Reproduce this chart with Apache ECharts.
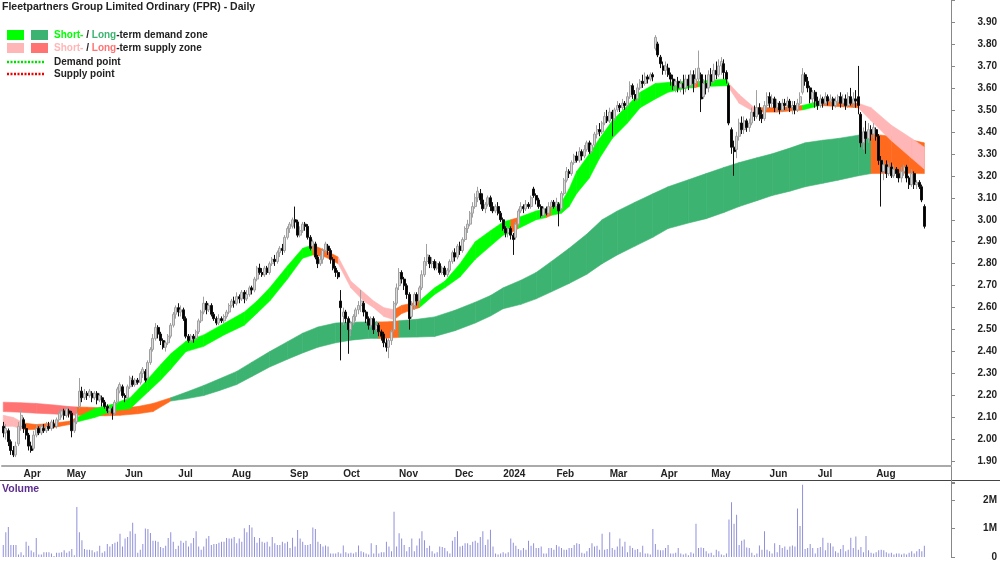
<!DOCTYPE html>
<html>
<head>
<meta charset="utf-8">
<title>FPR Daily</title>
<script src="https://cdn.jsdelivr.net/npm/echarts@6.0.0/dist/echarts.min.js"></script>
<style>
  html, body { margin: 0; padding: 0; background: #fff; }
  #chart { width: 1000px; height: 562px; }
</style>
</head>
<body>
<div id="chart"></div>
<script>
// trading days per month, first entry is the tail of March 2023
const monthNames = ['Mar', 'Apr', 'May', 'Jun', 'Jul', 'Aug', 'Sep', 'Oct', 'Nov', 'Dec', '2024', 'Feb', 'Mar', 'Apr', 'May', 'Jun', 'Jul', 'Aug']
const monthDays = [8, 17, 23, 21, 21, 23, 21, 22, 22, 19, 21, 21, 20, 20, 23, 19, 23, 20]
const padDays = 10

// [open, close, low, high]
const prices = [
  [2.06, 2.03, 2.01, 2.08], [2.03, 2.05, 2.00, 2.07], [2.04, 1.99, 1.97, 2.05], [1.99, 1.95, 1.93, 2.00], [1.95, 1.93, 1.92, 1.97], [1.93, 1.97, 1.92, 1.99],
  [1.98, 2.06, 1.97, 2.08], [2.06, 2.11, 2.04, 2.14], [2.09, 2.05, 2.03, 2.10], [2.05, 2.02, 2.00, 2.07], [2.02, 1.97, 1.95, 2.03], [1.97, 1.95, 1.94, 1.99],
  [1.96, 2.02, 1.95, 2.04], [2.02, 2.05, 2.01, 2.07], [2.05, 2.03, 2.02, 2.06], [2.03, 2.06, 2.02, 2.07], [2.05, 2.04, 2.03, 2.07], [2.04, 2.06, 2.03, 2.08],
  [2.06, 2.05, 2.04, 2.08], [2.05, 2.08, 2.04, 2.09], [2.07, 2.06, 2.05, 2.09], [2.06, 2.09, 2.05, 2.10], [2.09, 2.12, 2.08, 2.13], [2.11, 2.13, 2.10, 2.14],
  [2.13, 2.11, 2.09, 2.14], [2.11, 2.14, 2.10, 2.15], [2.13, 2.12, 2.10, 2.14], [2.12, 2.04, 2.01, 2.13], [2.04, 2.08, 2.03, 2.09], [2.08, 2.12, 2.07, 2.14],
  [2.15, 2.22, 2.14, 2.28], [2.22, 2.19, 2.17, 2.24], [2.19, 2.21, 2.18, 2.23], [2.21, 2.20, 2.18, 2.22], [2.20, 2.22, 2.19, 2.23], [2.21, 2.19, 2.17, 2.22],
  [2.19, 2.21, 2.18, 2.22], [2.21, 2.18, 2.16, 2.22], [2.18, 2.20, 2.17, 2.21], [2.19, 2.17, 2.15, 2.20], [2.17, 2.15, 2.14, 2.18], [2.15, 2.13, 2.12, 2.16],
  [2.13, 2.14, 2.11, 2.15], [2.14, 2.12, 2.09, 2.15], [2.12, 2.17, 2.11, 2.18], [2.17, 2.23, 2.16, 2.24], [2.22, 2.25, 2.21, 2.26], [2.24, 2.20, 2.19, 2.25],
  [2.20, 2.19, 2.17, 2.21], [2.19, 2.24, 2.18, 2.25], [2.24, 2.28, 2.23, 2.29], [2.27, 2.25, 2.24, 2.29], [2.25, 2.27, 2.24, 2.28], [2.27, 2.26, 2.25, 2.28],
  [2.26, 2.30, 2.25, 2.31], [2.30, 2.32, 2.28, 2.33], [2.31, 2.27, 2.26, 2.32], [2.28, 2.35, 2.27, 2.36], [2.35, 2.41, 2.34, 2.42], [2.41, 2.46, 2.40, 2.48],
  [2.46, 2.51, 2.45, 2.53], [2.51, 2.48, 2.46, 2.52], [2.48, 2.45, 2.43, 2.49], [2.45, 2.42, 2.41, 2.46], [2.42, 2.44, 2.40, 2.45], [2.44, 2.47, 2.43, 2.48],
  [2.47, 2.52, 2.46, 2.53], [2.52, 2.57, 2.51, 2.58], [2.57, 2.60, 2.55, 2.61], [2.60, 2.58, 2.56, 2.62], [2.58, 2.59, 2.56, 2.61], [2.59, 2.55, 2.54, 2.60],
  [2.55, 2.47, 2.46, 2.56], [2.47, 2.45, 2.44, 2.48], [2.45, 2.47, 2.44, 2.48], [2.47, 2.46, 2.44, 2.48], [2.46, 2.49, 2.45, 2.50], [2.49, 2.54, 2.48, 2.55],
  [2.54, 2.58, 2.53, 2.59], [2.58, 2.62, 2.57, 2.65], [2.62, 2.59, 2.57, 2.63], [2.59, 2.61, 2.58, 2.62], [2.61, 2.57, 2.56, 2.62], [2.57, 2.55, 2.54, 2.58],
  [2.55, 2.53, 2.52, 2.56], [2.53, 2.55, 2.52, 2.57], [2.55, 2.54, 2.53, 2.56], [2.54, 2.56, 2.53, 2.57], [2.56, 2.58, 2.55, 2.59], [2.58, 2.61, 2.57, 2.62],
  [2.61, 2.63, 2.60, 2.64], [2.63, 2.62, 2.60, 2.65], [2.62, 2.65, 2.61, 2.67], [2.65, 2.64, 2.62, 2.66], [2.64, 2.67, 2.63, 2.68], [2.67, 2.64, 2.62, 2.68],
  [2.64, 2.66, 2.63, 2.68], [2.66, 2.69, 2.65, 2.70], [2.69, 2.68, 2.66, 2.70], [2.68, 2.73, 2.67, 2.74], [2.73, 2.78, 2.72, 2.79], [2.78, 2.76, 2.75, 2.80],
  [2.76, 2.75, 2.74, 2.78], [2.75, 2.78, 2.74, 2.79], [2.78, 2.76, 2.75, 2.79], [2.76, 2.80, 2.75, 2.81], [2.80, 2.82, 2.79, 2.83], [2.82, 2.81, 2.79, 2.84],
  [2.81, 2.85, 2.80, 2.86], [2.85, 2.87, 2.83, 2.88], [2.87, 2.86, 2.84, 2.89], [2.86, 2.92, 2.85, 2.93], [2.92, 2.96, 2.91, 2.97], [2.96, 2.98, 2.94, 2.99],
  [2.97, 3.00, 2.96, 3.01], [3.00, 2.99, 2.96, 3.06], [2.99, 2.93, 2.92, 3.00], [2.93, 2.95, 2.92, 2.97], [2.95, 2.98, 2.94, 2.99], [2.98, 2.97, 2.95, 2.99],
  [2.97, 2.92, 2.91, 2.98], [2.92, 2.87, 2.86, 2.93], [2.88, 2.90, 2.86, 2.91], [2.89, 2.83, 2.82, 2.90], [2.83, 2.80, 2.78, 2.84], [2.80, 2.82, 2.79, 2.84],
  [2.82, 2.86, 2.80, 2.87], [2.86, 2.89, 2.85, 2.90], [2.88, 2.86, 2.84, 2.89], [2.86, 2.82, 2.80, 2.87], [2.82, 2.78, 2.77, 2.83], [2.78, 2.76, 2.74, 2.79],
  [2.76, 2.74, 2.73, 2.77], [2.63, 2.60, 2.36, 2.68], [2.56, 2.58, 2.52, 2.60], [2.58, 2.55, 2.53, 2.59], [2.55, 2.50, 2.39, 2.56], [2.50, 2.53, 2.47, 2.54],
  [2.53, 2.56, 2.52, 2.57], [2.56, 2.59, 2.54, 2.60], [2.59, 2.61, 2.57, 2.63], [2.61, 2.63, 2.58, 2.68], [2.62, 2.58, 2.56, 2.63], [2.58, 2.55, 2.53, 2.59],
  [2.55, 2.52, 2.50, 2.56], [2.52, 2.55, 2.51, 2.56], [2.55, 2.50, 2.48, 2.56], [2.50, 2.52, 2.49, 2.54], [2.52, 2.49, 2.47, 2.53], [2.49, 2.47, 2.45, 2.50],
  [2.48, 2.44, 2.42, 2.49], [2.44, 2.42, 2.40, 2.46], [2.42, 2.45, 2.37, 2.46], [2.45, 2.49, 2.43, 2.50], [2.50, 2.62, 2.49, 2.63], [2.62, 2.69, 2.61, 2.71],
  [2.70, 2.76, 2.68, 2.78], [2.76, 2.73, 2.71, 2.77], [2.73, 2.70, 2.68, 2.74], [2.70, 2.66, 2.64, 2.71], [2.66, 2.55, 2.50, 2.67], [2.56, 2.61, 2.55, 2.63],
  [2.61, 2.66, 2.59, 2.67], [2.66, 2.63, 2.61, 2.67], [2.63, 2.69, 2.62, 2.70], [2.69, 2.75, 2.68, 2.77], [2.75, 2.81, 2.74, 2.83], [2.81, 2.84, 2.79, 2.89],
  [2.83, 2.80, 2.78, 2.84], [2.80, 2.81, 2.78, 2.83], [2.81, 2.78, 2.77, 2.82], [2.78, 2.80, 2.77, 2.81], [2.80, 2.76, 2.75, 2.81], [2.76, 2.78, 2.75, 2.79],
  [2.78, 2.75, 2.74, 2.79], [2.75, 2.77, 2.74, 2.78], [2.77, 2.81, 2.76, 2.82], [2.81, 2.85, 2.80, 2.86], [2.85, 2.83, 2.81, 2.87], [2.83, 2.88, 2.82, 2.89],
  [2.88, 2.86, 2.84, 2.90], [2.86, 2.91, 2.85, 2.92], [2.91, 2.96, 2.90, 2.97], [2.96, 2.98, 2.94, 3.00], [2.98, 3.03, 2.97, 3.04], [3.03, 3.06, 3.01, 3.08],
  [3.06, 3.10, 3.05, 3.12], [3.10, 3.13, 3.08, 3.15], [3.12, 3.09, 3.07, 3.14], [3.09, 3.05, 3.04, 3.12], [3.05, 3.07, 3.03, 3.08], [3.07, 3.10, 3.06, 3.11],
  [3.10, 3.06, 3.04, 3.11], [3.06, 3.04, 3.03, 3.08], [3.04, 3.06, 3.03, 3.07], [3.06, 3.03, 3.02, 3.08], [3.03, 3.00, 2.99, 3.04], [3.00, 2.96, 2.95, 3.01],
  [2.96, 2.94, 2.92, 2.97], [2.94, 2.96, 2.92, 2.97], [2.96, 2.93, 2.91, 2.97], [2.93, 2.91, 2.84, 2.94], [2.92, 2.98, 2.91, 2.99], [2.98, 3.04, 2.97, 3.05],
  [3.04, 3.06, 3.03, 3.08], [3.06, 3.05, 3.03, 3.07], [3.05, 3.07, 3.04, 3.09], [3.07, 3.06, 3.05, 3.08], [3.06, 3.10, 3.05, 3.11], [3.14, 3.11, 3.10, 3.15],
  [3.11, 3.09, 3.07, 3.12], [3.09, 3.06, 3.05, 3.10], [3.06, 3.02, 3.01, 3.07], [3.02, 3.05, 3.01, 3.06], [3.05, 3.03, 3.02, 3.06], [3.03, 3.06, 3.02, 3.08],
  [3.06, 3.08, 3.05, 3.09], [3.08, 3.06, 3.05, 3.09], [3.06, 3.08, 3.05, 3.10], [3.07, 3.04, 2.97, 3.08], [3.05, 3.12, 3.04, 3.13], [3.12, 3.18, 3.11, 3.19],
  [3.18, 3.22, 3.17, 3.24], [3.22, 3.21, 3.19, 3.23], [3.21, 3.26, 3.20, 3.27], [3.26, 3.29, 3.25, 3.30], [3.29, 3.27, 3.26, 3.31], [3.27, 3.31, 3.26, 3.33],
  [3.31, 3.29, 3.27, 3.32], [3.29, 3.32, 3.28, 3.34], [3.32, 3.35, 3.31, 3.36], [3.35, 3.31, 3.30, 3.36], [3.31, 3.34, 3.30, 3.35], [3.34, 3.39, 3.33, 3.40],
  [3.39, 3.41, 3.37, 3.43], [3.41, 3.40, 3.38, 3.44], [3.40, 3.44, 3.39, 3.45], [3.44, 3.47, 3.43, 3.49], [3.47, 3.45, 3.44, 3.50], [3.45, 3.49, 3.44, 3.51],
  [3.49, 3.46, 3.38, 3.50], [3.46, 3.50, 3.45, 3.51], [3.50, 3.52, 3.49, 3.54], [3.52, 3.51, 3.49, 3.53], [3.51, 3.53, 3.50, 3.55], [3.53, 3.52, 3.50, 3.54],
  [3.52, 3.56, 3.51, 3.58], [3.56, 3.61, 3.55, 3.63], [3.61, 3.57, 3.55, 3.62], [3.57, 3.55, 3.54, 3.59], [3.55, 3.60, 3.54, 3.62], [3.60, 3.63, 3.59, 3.64],
  [3.63, 3.62, 3.60, 3.66], [3.62, 3.65, 3.61, 3.67], [3.65, 3.64, 3.62, 3.66], [3.64, 3.66, 3.63, 3.67], [3.66, 3.65, 3.63, 3.67], [3.78, 3.83, 3.77, 3.84],
  [3.80, 3.75, 3.74, 3.81], [3.74, 3.71, 3.69, 3.75], [3.70, 3.68, 3.66, 3.72], [3.68, 3.70, 3.66, 3.72], [3.69, 3.66, 3.65, 3.71], [3.66, 3.64, 3.61, 3.67],
  [3.64, 3.61, 3.59, 3.66], [3.61, 3.63, 3.58, 3.64], [3.63, 3.60, 3.58, 3.65], [3.60, 3.62, 3.58, 3.64], [3.62, 3.60, 3.57, 3.66], [3.60, 3.64, 3.58, 3.66],
  [3.64, 3.61, 3.59, 3.66], [3.61, 3.66, 3.60, 3.68], [3.66, 3.62, 3.58, 3.68], [3.62, 3.64, 3.60, 3.69], [3.64, 3.69, 3.62, 3.77], [3.66, 3.55, 3.49, 3.67],
  [3.56, 3.62, 3.55, 3.64], [3.62, 3.60, 3.57, 3.66], [3.60, 3.66, 3.58, 3.68], [3.66, 3.63, 3.61, 3.69], [3.63, 3.68, 3.62, 3.71], [3.68, 3.66, 3.64, 3.72],
  [3.66, 3.70, 3.65, 3.73], [3.70, 3.72, 3.66, 3.74], [3.71, 3.67, 3.64, 3.73], [3.67, 3.64, 3.62, 3.68], [3.61, 3.44, 3.43, 3.62], [3.41, 3.33, 3.30, 3.42],
  [3.33, 3.31, 3.20, 3.36], [3.32, 3.38, 3.28, 3.40], [3.38, 3.44, 3.36, 3.46], [3.44, 3.41, 3.39, 3.47], [3.41, 3.45, 3.39, 3.47], [3.45, 3.42, 3.40, 3.46],
  [3.42, 3.44, 3.40, 3.46], [3.44, 3.49, 3.43, 3.51], [3.49, 3.47, 3.45, 3.52], [3.47, 3.51, 3.46, 3.59], [3.51, 3.48, 3.45, 3.53], [3.48, 3.46, 3.44, 3.50],
  [3.46, 3.52, 3.45, 3.54], [3.52, 3.56, 3.50, 3.58], [3.56, 3.53, 3.51, 3.58], [3.53, 3.55, 3.51, 3.57], [3.55, 3.51, 3.49, 3.56], [3.51, 3.53, 3.49, 3.55],
  [3.53, 3.50, 3.48, 3.54], [3.50, 3.53, 3.49, 3.55], [3.53, 3.52, 3.50, 3.55], [3.52, 3.54, 3.50, 3.56], [3.54, 3.51, 3.49, 3.55], [3.51, 3.52, 3.48, 3.54],
  [3.52, 3.50, 3.48, 3.54], [3.50, 3.53, 3.49, 3.55], [3.53, 3.56, 3.52, 3.58], [3.58, 3.66, 3.57, 3.69], [3.66, 3.63, 3.61, 3.67], [3.63, 3.60, 3.58, 3.65],
  [3.60, 3.55, 3.53, 3.61], [3.55, 3.58, 3.52, 3.59], [3.58, 3.54, 3.51, 3.59], [3.54, 3.52, 3.50, 3.56], [3.52, 3.55, 3.51, 3.57], [3.55, 3.53, 3.51, 3.56],
  [3.53, 3.56, 3.52, 3.58], [3.56, 3.54, 3.52, 3.57], [3.54, 3.55, 3.52, 3.57], [3.55, 3.52, 3.50, 3.56], [3.52, 3.54, 3.51, 3.56], [3.54, 3.56, 3.53, 3.57],
  [3.56, 3.53, 3.51, 3.58], [3.53, 3.55, 3.52, 3.57], [3.55, 3.52, 3.50, 3.57], [3.52, 3.56, 3.51, 3.58], [3.56, 3.53, 3.52, 3.60], [3.53, 3.55, 3.51, 3.58],
  [3.55, 3.54, 3.51, 3.59], [3.56, 3.52, 3.48, 3.70], [3.48, 3.35, 3.33, 3.49], [3.35, 3.40, 3.32, 3.42], [3.40, 3.37, 3.30, 3.45], [3.37, 3.41, 3.35, 3.44],
  [3.41, 3.39, 3.36, 3.43], [3.39, 3.42, 3.37, 3.44], [3.41, 3.38, 3.36, 3.42], [3.38, 3.27, 3.25, 3.39], [3.27, 3.22, 3.06, 3.29], [3.22, 3.25, 3.18, 3.27],
  [3.25, 3.21, 3.19, 3.27], [3.21, 3.24, 3.20, 3.26], [3.24, 3.20, 3.19, 3.26], [3.20, 3.23, 3.19, 3.25], [3.23, 3.21, 3.19, 3.24], [3.21, 3.19, 3.17, 3.23],
  [3.19, 3.22, 3.17, 3.24], [3.22, 3.24, 3.20, 3.25], [3.24, 3.19, 3.17, 3.25], [3.19, 3.16, 3.14, 3.20], [3.16, 3.21, 3.15, 3.23], [3.21, 3.16, 3.14, 3.22],
  [3.16, 3.17, 3.14, 3.18], [3.17, 3.15, 3.14, 3.18], [3.15, 3.09, 3.08, 3.16], [3.06, 2.97, 2.96, 3.07]
]

// daily volume, thousands of shares
const volumes = [
  425, 869, 1057, 425, 425, 425, 92, 169, 58, 536, 391, 225, 169, 669, 92, 92, 169, 169, 169, 125,
  36, 147, 147, 169, 236, 147, 203, 280, 58, 1757, 869, 591, 280, 258, 258, 236, 169, 203, 391, 147,
  203, 458, 369, 458, 502, 536, 813, 369, 647, 702, 902, 1202, 813, 147, 258, 458, 1002, 980, 846, 569,
  569, 536, 347, 314, 391, 669, 869, 536, 280, 391, 569, 502, 569, 369, 480, 669, 902, 369, 258, 369,
  647, 735, 425, 458, 458, 502, 536, 536, 669, 647, 647, 702, 480, 647, 536, 1013, 869, 1124, 1035, 702,
  502, 669, 536, 502, 536, 369, 702, 480, 425, 425, 536, 480, 536, 314, 680, 369, 946, 647, 536, 425,
  425, 458, 1035, 980, 536, 458, 369, 402, 369, 125, 125, 125, 169, 125, 402, 169, 125, 147, 125, 169,
  402, 203, 169, 125, 92, 480, 125, 425, 125, 169, 169, 536, 369, 203, 1590, 369, 835, 647, 425, 203,
  347, 647, 203, 402, 647, 902, 591, 314, 391, 203, 125, 169, 369, 347, 314, 203, 125, 569, 702, 902,
  369, 391, 480, 480, 425, 536, 569, 502, 702, 902, 425, 613, 957, 369, 125, 92,
  125, 169, 125, 169, 647, 502, 391, 280, 236, 314, 258, 569, 391, 480, 314, 314, 369, 125, 125, 314,
  314, 258, 425, 369, 314, 258, 258, 314, 314, 425, 480, 458, 147, 125, 203, 314, 480, 369, 391, 258,
  813, 258, 280, 869, 314, 258, 369, 647, 369, 536, 169, 391, 314, 258, 280, 169, 391, 125, 125, 92,
  980, 458, 258, 236, 236, 314, 425, 125, 125, 147, 314, 125, 92, 125, 58, 169, 125, 1168, 314, 336,
  314, 203, 125, 147, 58, 258, 203, 92, 58, 125, 1313, 1923, 1168, 1479, 425, 569, 613, 336, 314, 147,
  58, 125, 402, 258, 902, 258, 203, 125, 480, 169, 425, 314, 369, 258, 369, 402, 369, 1701, 1091, 2534,
  280, 314, 458, 314, 125, 314, 347, 680, 236, 502, 480, 369, 203, 147, 280, 425, 203, 258, 680, 314,
  724, 258, 347, 169, 735, 236, 147, 125, 169, 236, 258, 236, 169, 125, 147, 92, 125, 125, 92, 125,
  92, 147, 203, 125, 203, 280, 203, 391
]

// short-term zone (bar index, upper, lower, state)
const shortIdx = [0, 4, 8, 13, 20, 26, 29, 36, 43, 50, 57, 62, 66, 72, 79, 87, 95, 100, 105, 112, 118, 122, 127, 132, 137, 142, 146, 150, 154, 157, 161, 164, 170, 174, 180, 186, 192, 197, 200, 203, 210, 214, 216, 220, 223, 226, 231, 235, 240, 246, 251, 257, 262, 270, 272, 274, 285, 286, 290, 296, 305, 315, 322, 337, 342, 350, 358, 363]
const shortHi = [2.11, 2.10, 2.075, 2.068, 2.075, 2.083, 2.10, 2.14, 2.16, 2.19, 2.275, 2.34, 2.39, 2.447, 2.476, 2.528, 2.58, 2.63, 2.69, 2.79, 2.87, 2.885, 2.86, 2.83, 2.72, 2.67, 2.63, 2.60, 2.59, 2.61, 2.62, 2.63, 2.69, 2.72, 2.80, 2.90, 2.95, 2.99, 3.00, 3.01, 3.04, 3.05, 3.06, 3.08, 3.14, 3.22, 3.30, 3.37, 3.45, 3.52, 3.58, 3.62, 3.625, 3.63, 3.63, 3.63, 3.64, 3.62, 3.57, 3.51, 3.51, 3.52, 3.54, 3.53, 3.51, 3.43, 3.37, 3.33]
const shortLo = [2.06, 2.06, 2.045, 2.046, 2.055, 2.068, 2.08, 2.10, 2.13, 2.14, 2.216, 2.27, 2.32, 2.40, 2.424, 2.476, 2.52, 2.575, 2.63, 2.73, 2.825, 2.84, 2.83, 2.80, 2.69, 2.63, 2.60, 2.56, 2.545, 2.573, 2.59, 2.60, 2.66, 2.69, 2.74, 2.82, 2.88, 2.93, 2.94, 2.96, 3.00, 3.01, 3.02, 3.03, 3.06, 3.12, 3.19, 3.28, 3.37, 3.44, 3.51, 3.55, 3.58, 3.60, 3.60, 3.605, 3.61, 3.60, 3.53, 3.49, 3.49, 3.50, 3.52, 3.51, 3.45, 3.36, 3.28, 3.23]
const shortState = ['ss', 'ss', 'o', 'o', 'o', 'o', 'sd', 'sd', 'sd', 'sd', 'sd', 'sd', 'sd', 'sd', 'sd', 'sd', 'sd', 'sd', 'sd', 'sd', 'sd', 'o', 'o', 'ss', 'ss', 'ss', 'ss', 'ss', 'o', 'o', 'o', 'sd', 'sd', 'sd', 'sd', 'sd', 'sd', 'sd', 'o', 'sd', 'sd', 'o', 'sd', 'sd', 'sd', 'sd', 'sd', 'sd', 'sd', 'sd', 'sd', 'sd', 'sd', 'sd', 'o', 'sd', 'sd', 'ss', 'ss', 'o', 'o', 'sd', 'o', 'ss', 'ss', 'ss', 'ss', 'ss']

// long-term zone (bar index, upper, lower, state)
const longIdx = [0, 7, 13, 20, 26, 29, 33, 40, 46, 53, 59, 66, 72, 79, 85, 92, 98, 105, 112, 118, 124, 131, 137, 144, 148, 152, 156, 163, 170, 178, 186, 192, 197, 204, 210, 216, 223, 230, 236, 242, 249, 256, 262, 270, 277, 284, 290, 297, 303, 310, 316, 323, 329, 337, 342, 350, 357, 363]
const longHi = [2.170, 2.167, 2.164, 2.157, 2.150, 2.148, 2.147, 2.143, 2.142, 2.150, 2.164, 2.190, 2.215, 2.246, 2.275, 2.310, 2.352, 2.400, 2.445, 2.484, 2.512, 2.530, 2.534, 2.535, 2.535, 2.536, 2.540, 2.547, 2.558, 2.588, 2.625, 2.655, 2.690, 2.725, 2.760, 2.810, 2.870, 2.935, 3.000, 3.040, 3.080, 3.118, 3.150, 3.182, 3.210, 3.238, 3.260, 3.282, 3.300, 3.326, 3.350, 3.362, 3.370, 3.385, 3.390, 3.380, 3.365, 3.350]
const longLo = [2.127, 2.124, 2.120, 2.116, 2.112, 2.110, 2.108, 2.108, 2.110, 2.117, 2.127, 2.175, 2.185, 2.200, 2.222, 2.250, 2.287, 2.330, 2.365, 2.394, 2.420, 2.440, 2.452, 2.460, 2.460, 2.462, 2.465, 2.466, 2.469, 2.495, 2.530, 2.562, 2.595, 2.615, 2.640, 2.672, 2.710, 2.752, 2.800, 2.840, 2.880, 2.920, 2.960, 2.985, 3.005, 3.033, 3.060, 3.087, 3.110, 3.130, 3.150, 3.166, 3.180, 3.200, 3.210, 3.212, 3.212, 3.210]
const longState = ['ls', 'ls', 'ls', 'ls', 'ls', 'o', 'o', 'o', 'o', 'o', 'o', 'ld', 'ld', 'ld', 'ld', 'ld', 'ld', 'ld', 'ld', 'ld', 'ld', 'ld', 'ld', 'ld', 'o', 'o', 'ld', 'ld', 'ld', 'ld', 'ld', 'ld', 'ld', 'ld', 'ld', 'ld', 'ld', 'ld', 'ld', 'ld', 'ld', 'ld', 'ld', 'ld', 'ld', 'ld', 'ld', 'ld', 'ld', 'ld', 'ld', 'ld', 'ld', 'ld', 'o', 'o', 'o', 'o']

const zoneColors = {
  sd: '#00ff00',
  ss: '#ffb6b6',
  ld: '#3cb371',
  ls: '#ff7373',
  o: '#ff6a1f',
}

const categories = []
const monthStart = {}
monthNames.forEach((m, k) => {
  for (let d = 0; d < monthDays[k]; d++) {
    if (d === 0 && k > 0) monthStart[categories.length] = m
    categories.push(m + '-' + k + '-' + d)
  }
})
for (let d = 0; d < padDays; d++) categories.push('pad-' + d)

function zoneData(idx, hi, lo, state) {
  const out = []
  for (let k = 0; k < idx.length - 1; k++) {
    out.push({
      value: [idx[k], idx[k + 1], hi[k], lo[k], hi[k + 1], lo[k + 1]],
      itemStyle: { color: zoneColors[state[k]] },
    })
  }
  return out
}

function renderZone(params, api) {
  const a = api.coord([api.value(0), api.value(2)])
  const b = api.coord([api.value(1), api.value(4)])
  const c = api.coord([api.value(1), api.value(5)])
  const d = api.coord([api.value(0), api.value(3)])
  const color = api.visual('color')
  return {
    type: 'polygon',
    shape: { points: [a, b, c, d] },
    style: { fill: color, stroke: color, lineWidth: 0.6 },
  }
}

const font = 'Liberation Sans, Arial, sans-serif'
const labelStyle = { color: '#222', fontSize: 10, fontWeight: 'bold', fontFamily: font }

const chart = echarts.init(document.getElementById('chart'))

chart.setOption({
  animation: false,
  backgroundColor: '#fff',
  grid: [
    { left: 2, right: 48, top: -10.45, height: 493.9 },
    { left: 2, right: 48, top: 482, height: 79 },
  ],
  xAxis: [
    {
      type: 'category',
      gridIndex: 0,
      data: categories,
      boundaryGap: true,
      offset: -17.45,
      axisLine: { lineStyle: { color: '#aaa', width: 2 } },
      axisTick: {
        alignWithLabel: true,
        length: 3,
        interval: (i) => i in monthStart,
        lineStyle: { color: '#777' },
      },
      axisLabel: {
        ...labelStyle,
        align: 'left',
        margin: 3,
        interval: (i) => i in monthStart,
        formatter: (v, i) => monthStart[i] || '',
      },
      splitLine: { show: false },
    },
    {
      type: 'category',
      gridIndex: 1,
      data: categories,
      boundaryGap: true,
      show: false,
    },
  ],
  yAxis: [
    {
      type: 'value',
      gridIndex: 0,
      position: 'right',
      min: 1.8,
      max: 4.0,
      interval: 0.1,
      axisLine: { show: true, lineStyle: { color: '#888' } },
      axisTick: { show: true, length: 4, lineStyle: { color: '#888' } },
      axisLabel: {
        ...labelStyle,
        align: 'right',
        margin: 46,
        formatter: (v) => (v < 1.85 || v > 3.95 ? '' : v.toFixed(2)),
      },
      splitLine: { show: false },
    },
    {
      type: 'value',
      gridIndex: 1,
      position: 'right',
      min: 0,
      max: 2633,
      interval: 1000,
      axisLine: { show: true, lineStyle: { color: '#888' } },
      axisTick: { show: true, length: 4, lineStyle: { color: '#888' } },
      axisLabel: {
        ...labelStyle,
        align: 'right',
        margin: 46,
        formatter: (v) => (v === 0 ? '0' : v % 1000 === 0 ? v / 1000 + 'M' : ''),
      },
      splitLine: { show: false },
    },
  ],
  series: [
    {
      name: 'Long-term zone',
      type: 'custom',
      xAxisIndex: 0,
      yAxisIndex: 0,
      renderItem: renderZone,
      encode: { x: [0, 1], y: [2, 3, 4, 5] },
      data: zoneData(longIdx, longHi, longLo, longState),
      z: 1,
    },
    {
      name: 'Short-term zone',
      type: 'custom',
      xAxisIndex: 0,
      yAxisIndex: 0,
      renderItem: renderZone,
      encode: { x: [0, 1], y: [2, 3, 4, 5] },
      data: zoneData(shortIdx, shortHi, shortLo, shortState),
      z: 2,
    },
    {
      name: 'FPR',
      type: 'candlestick',
      xAxisIndex: 0,
      yAxisIndex: 0,
      data: prices,
      barWidth: 2.5,
      itemStyle: {
        color: '#d8d8d8',
        color0: '#000',
        borderColor: '#a0a0a0',
        borderColor0: '#111',
        borderWidth: 1,
      },
      z: 3,
    },
    {
      name: 'Volume',
      type: 'bar',
      xAxisIndex: 1,
      yAxisIndex: 1,
      data: volumes,
      barWidth: 1,
      itemStyle: { color: '#9090da' },
    },
  ],
  graphic: [
    {
      type: 'text',
      left: 2,
      top: 2,
      style: { text: 'Fleetpartners Group Limited Ordinary (FPR) - Daily', fill: '#222', font: 'bold 10.5px ' + font },
    },
    { type: 'rect', shape: { x: 7, y: 30, width: 17, height: 10 }, style: { fill: zoneColors.sd } },
    { type: 'rect', shape: { x: 31, y: 30, width: 17, height: 10 }, style: { fill: zoneColors.ld } },
    { type: 'rect', shape: { x: 7, y: 43, width: 17, height: 10 }, style: { fill: zoneColors.ss } },
    { type: 'rect', shape: { x: 31, y: 43, width: 17, height: 10 }, style: { fill: zoneColors.ls } },
    {
      type: 'text',
      x: 54,
      y: 35,
      style: {
        text: '{g|Short-} / {d|Long}-term demand zone',
        fill: '#222',
        font: 'bold 10px ' + font,
        verticalAlign: 'middle',
        rich: {
          g: { fill: zoneColors.sd, font: 'bold 10px ' + font },
          d: { fill: zoneColors.ld, font: 'bold 10px ' + font },
        },
      },
    },
    {
      type: 'text',
      x: 54,
      y: 48,
      style: {
        text: '{p|Short-} / {r|Long}-term supply zone',
        fill: '#222',
        font: 'bold 10px ' + font,
        verticalAlign: 'middle',
        rich: {
          p: { fill: zoneColors.ss, font: 'bold 10px ' + font },
          r: { fill: zoneColors.ls, font: 'bold 10px ' + font },
        },
      },
    },
    {
      type: 'line',
      shape: { x1: 7, y1: 62, x2: 44, y2: 62 },
      style: { stroke: '#00dd00', lineWidth: 2.5, lineDash: [2, 1.5] },
    },
    {
      type: 'line',
      shape: { x1: 7, y1: 74, x2: 44, y2: 74 },
      style: { stroke: '#ee0000', lineWidth: 2.5, lineDash: [2, 1.5] },
    },
    {
      type: 'text',
      x: 54,
      y: 62,
      style: { text: 'Demand point', fill: '#222', font: 'bold 10px ' + font, verticalAlign: 'middle' },
    },
    {
      type: 'text',
      x: 54,
      y: 74,
      style: { text: 'Supply point', fill: '#222', font: 'bold 10px ' + font, verticalAlign: 'middle' },
    },
    {
      type: 'line',
      shape: { x1: 0, y1: 480.5, x2: 1000, y2: 480.5 },
      style: { stroke: '#444', lineWidth: 1 },
    },
    {
      type: 'text',
      x: 2,
      y: 489,
      style: { text: 'Volume', fill: '#5b2d8e', font: 'bold 10.5px ' + font, verticalAlign: 'middle' },
    },
  ],
})
</script>
</body>
</html>
